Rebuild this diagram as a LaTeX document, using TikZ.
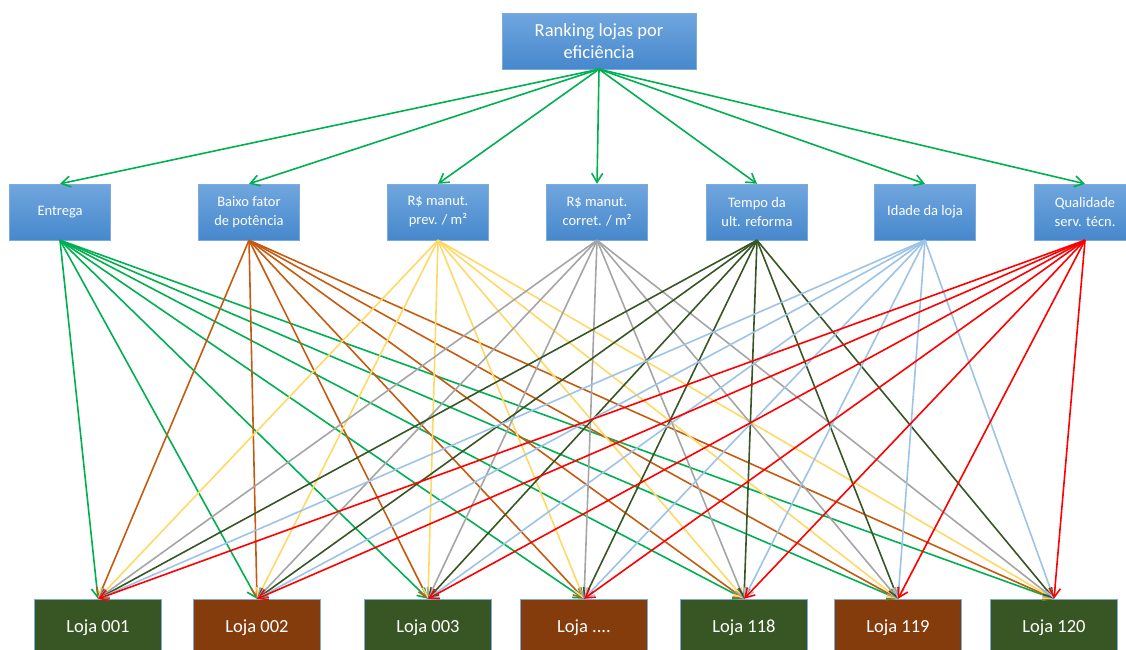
\documentclass[tikz,border=0pt]{standalone}
\usepackage{fontspec}
\setmainfont{Carlito}
\usetikzlibrary{arrows.meta}
\definecolor{boxtop}{RGB}{112,166,222}
\definecolor{boxbot}{RGB}{70,136,204}
\definecolor{boxline}{RGB}{125,170,220}
\definecolor{arrgreen}{RGB}{0,176,80}
\definecolor{arrbrown}{RGB}{197,90,17}
\definecolor{arryellow}{RGB}{255,217,102}
\definecolor{arrgray}{RGB}{165,165,165}
\definecolor{arrdark}{RGB}{55,86,35}
\definecolor{arrblue}{RGB}{157,195,230}
\definecolor{arrred}{RGB}{255,0,0}
\definecolor{lojagreen}{RGB}{55,86,35}
\definecolor{lojabrown}{RGB}{132,60,12}
\begin{document}
\begin{tikzpicture}[x=1pt,y=-1pt,
				every node/.style = {shape=rectangle, align=center,
					text=white, inner sep=0pt},
				head/.style = {draw=boxline, top color=boxtop, bottom color=boxbot,
					minimum width=194pt, minimum height=56pt,
					font=\fontsize{18.5}{22}\selectfont},
				crit/.style = {draw=boxline, top color=boxtop, bottom color=boxbot,
					minimum width=101pt, minimum height=56pt,
					font=\fontsize{14.5}{19}\selectfont},
				loja/.style = {draw=boxline, fill=#1,
					minimum width=127pt, minimum height=58pt,
					font=\fontsize{18.5}{22}\selectfont},
				link/.style = {line width=1.6pt, -{Straight Barb[length=9pt,width=11pt]}}]
				\useasboundingbox (0,0) rectangle (1126,649);
				\clip (0,0) rectangle (1126,649);
				\node[head] (rank) at (599,41) {Ranking lojas por\\eficiência};
				% criterios
				\node[crit] (entrega) at (60,212) {Entrega};
				\node[crit] (fator) at (249,212) {Baixo fator\\de potência};
				\node[crit] (prev) at (438,212) {R\$ manut.\\prev. / m²};
				\node[crit] (corret) at (597,212) {R\$ manut.\\corret. / m²};
				\node[crit] (tempo) at (757,212) {Tempo da\\ult. reforma};
				\node[crit] (idade) at (925,212) {Idade da loja};
				\node[crit] (qual) at (1085,212) {Qualidade\\serv. técn.};
				% lojas
				\node[loja=lojagreen] (l1) at (98,628) {Loja 001};
				\node[loja=lojabrown] (l2) at (257,628) {Loja 002};
				\node[loja=lojagreen] (l3) at (428,628) {Loja 003};
				\node[loja=lojabrown] (l4) at (584,628) {Loja ....};
				\node[loja=lojagreen] (l5) at (744,628) {Loja 118};
				\node[loja=lojabrown] (l6) at (898,628) {Loja 119};
				\node[loja=lojagreen] (l7) at (1054,628) {Loja 120};
				% ligacoes
				\foreach \c in {entrega,fator,prev,corret,tempo,idade,qual}
					\draw[link, arrgreen] (rank.south) -- (\c.north);
				\foreach \c/\col in {entrega/arrgreen, fator/arrbrown, prev/arryellow,
						corret/arrgray, tempo/arrdark, idade/arrblue, qual/arrred}
					\foreach \l in {l1,l2,l3,l4,l5,l6,l7}
						\draw[link, \col] (\c.south) -- (\l.north);
			\end{tikzpicture}
\end{document}
